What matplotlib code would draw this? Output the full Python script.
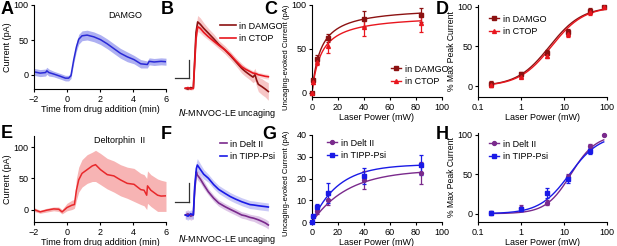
import numpy as np
import matplotlib
matplotlib.use("Agg")
import matplotlib.pyplot as plt

plt.rcParams['font.family'] = ['Liberation Sans', 'DejaVu Sans']
plt.rcParams['font.size'] = 6.5
plt.rcParams['axes.linewidth'] = 0.8
plt.rcParams['xtick.major.size'] = 2.5
plt.rcParams['ytick.major.size'] = 2.5
plt.rcParams['xtick.major.width'] = 0.8
plt.rcParams['ytick.major.width'] = 0.8
plt.rcParams['xtick.major.pad'] = 1.5
plt.rcParams['ytick.major.pad'] = 1.5

# --- colours ---
BLUE_A = '#2a2ad6'
BLUE_A_BAND = '#aeb0f2'
RED_E = '#e8282b'
RED_E_BAND = '#f7b4b4'
DAMGO_C = '#8c1212'
CTOP_C = '#e8161e'
DELT_C = '#7a2a8c'
TIPP_C = '#1a1ae6'

# --- A: DAMGO time course ---
a_t = [-2, -1.63, -1.3, -1.22, -1.1, -0.81, -0.41, -0.1, 0.1, 0.24, 0.41, 0.57, 0.71, 0.91,
       1.22, 1.63, 2.03, 2.44, 2.84, 3.24, 3.65, 4.06, 4.47, 4.87, 4.98, 5.28, 5.7, 6]
a_mean = [4.5, 2.7, 3.5, 6, 3.5, 1.4, -1.8, -4.5, -4.5, -1, 22, 40, 51, 56,
          57, 54.5, 50.5, 44.5, 37.7, 31, 26, 22, 16, 15, 19.5, 18.6, 19.5, 19]
a_sem = [5, 5, 5, 5, 5, 4, 4, 4, 4, 4, 5, 6, 7, 7,
         7, 7, 7, 7, 7, 7, 7, 6, 6, 5, 5, 5, 5, 5]

# --- E: Deltorphin II time course ---
e_t = [-2, -1.63, -1.22, -0.81, -0.5, -0.3, 0, 0.3, 0.45, 0.57, 0.71, 0.91, 1.22, 1.53, 1.73,
       2.03, 2.44, 2.84, 3.24, 3.65, 4.06, 4.47, 4.67, 4.83, 4.88, 5.08, 5.49, 5.7, 6]
e_mean = [0, -3.8, -1, 1, 0.5, -3.8, 3.2, 7, 8, 31, 47.6, 58, 64, 70, 72,
          64, 56, 54, 47.6, 42, 40.5, 32, 31, 23, 38, 31, 23, 21.6, 22]
e_lo = [-3, -6, -4, -2, -3, -7, -2, 0, 2, 15, 28, 36, 42, 45, 45,
        40, 33, 28, 22, 18, 13, 8, 6, 0, 10, 5, -3, -3, -3]
e_hi = [3, -1, 2, 4, 4, 0, 10, 15, 16, 50, 68, 80, 88, 92, 95,
        90, 82, 78, 72, 68, 66, 58, 56, 50, 62, 56, 49, 47, 45]

# --- B: uncaging traces, DAMGO vs CTOP (time in s, current in pA) ---
b_t = [0, 0.8, 1.6, 2.4, 2.8, 3.2, 3.7, 4.5, 5.5, 6.9, 8.5, 10, 11.9, 13.5, 15,
       16.9, 18, 19.4, 20.3, 20.9, 21.4, 21.9, 23, 24, 24.9]
b_damgo = [0, -1, 1, 0, 35, 70, 83, 80, 75, 69, 62, 55, 48, 41, 34,
           25, 21, 16.6, 14, 17, 10, 5, 2, -1, -4]
b_damgo_sem = [1.5, 1.5, 1.5, 1.5, 6, 8, 8, 8, 7, 6, 6, 5, 5, 5, 5,
               6, 6, 6, 7, 8, 8, 9, 10, 10, 11]
b_ctop = [0, 1, -1, 0, 30, 62, 77, 75, 70, 64.5, 59, 54, 48, 42, 35,
          27, 24, 21, 19, 18.7, 18, 17, 16, 15, 14.5]
b_ctop_sem = [1.5, 1.5, 1.5, 1.5, 5, 6, 6, 6, 5, 4, 4, 4, 4, 3, 3,
              3, 3, 3, 3, 3, 3, 3, 3, 3, 3]

# --- F: uncaging traces, Delt II vs TIPP-Psi ---
f_t = [0, 0.8, 1.6, 2.4, 2.8, 3.3, 3.6, 4.5, 5.5, 6.9, 8.5, 10, 11.9, 13.5, 15,
       16.9, 18, 19.4, 20.5, 21.9, 23, 24, 24.9]
f_delt = [0, 1.5, -1.5, 0, 30, 54, 50, 45, 38, 29, 21, 15, 10.4, 7, 4,
          0, -1, -3, -4, -6, -8, -10, -12.5]
f_delt_sem = [5, 5, 5, 5, 5, 6, 6, 5, 5, 4, 4, 4, 4, 4, 4,
              4, 4, 4, 4, 5, 5, 5, 5]
f_tipp = [0, -1.5, 1.5, 0, 35, 58, 62.5, 57, 51, 46, 38, 32, 27, 23, 20,
          16.6, 15, 13, 12.5, 11.6, 11, 10.5, 10]
f_tipp_sem = [5, 5, 5, 5, 6, 8, 8, 7, 6, 5, 5, 5, 5, 5, 5,
              5, 5, 5, 5, 5, 5, 5, 5]

# --- C / D: laser power curves (DAMGO vs CTOP) ---
power = [0, 1, 3.5, 12.5, 40, 84]
c_damgo = [0, 14, 38.6, 62, 84, 88.6]
c_damgo_err = [0, 2, 3.8, 4.7, 9.5, 7.6]
c_ctop = [0, 12, 34.8, 53.7, 74.5, 80]
c_ctop_err = [0, 2, 3.5, 8.6, 10, 10.5]
c_damgo_fit = (98, 6.7)      # Vmax, K
c_ctop_fit = (89, 7.2)

power_log = [0.2, 1, 4, 12.5, 40, 84]
d_damgo = [3, 15, 42, 68, 95, 100]
d_damgo_err = [4, 3, 3, 4, 3, 0]
d_ctop = [2, 12, 38, 65, 93, 100]
d_ctop_err = [3, 2, 3, 3, 3, 0]
d_damgo_fit = (4.6, 1.15)    # EC50, Hill slope
d_ctop_fit = (5.1, 1.15)

# --- G / H: laser power curves (Delt II vs TIPP-Psi) ---
g_delt = [0, 2.6, 5, 10, 19.4, 22.4]
g_delt_err = [0, 0.8, 1.2, 2.3, 4, 5]
g_tipp = [0, 2.6, 6.7, 13.3, 21.2, 26.3]
g_tipp_err = [0, 0.8, 1.5, 4.5, 3.5, 4.6]
g_delt_fit = (24, 0.036)     # plateau, rate
g_tipp_fit = (26.5, 0.05)

h_delt = [1, 7.6, 14, 46.6, 85, 100]
h_delt_err = [3, 4, 3, 4, 3, 0]
h_tipp = [1, 5.5, 26.7, 43.7, 79, None]
h_tipp_err = [2, 2, 6.4, 5, 4, 0]
h_delt_fit = (14.5, 1.5)
h_tipp_fit = (13.5, 1.25)

W, H = 617, 246
fig = plt.figure(figsize=(W / 100, H / 100), dpi=100)


def px_axes(x0, y0, x1, y1):
    # axes from pixel box (left, top, right, bottom)
    return fig.add_axes([x0 / W, 1 - y1 / H, (x1 - x0) / W, (y1 - y0) / H])


def prism(ax):
    ax.spines['top'].set_visible(False)
    ax.spines['right'].set_visible(False)
    ax.tick_params(direction='out', labelsize=6.5)


def put_legend(ax, handles, labels, x, y, hl=1.2):
    ax.legend(handles, labels, loc='upper left', bbox_to_anchor=(x / W, 1 - y / H),
              bbox_transform=fig.transFigure, frameon=False, borderpad=0,
              handlelength=hl, handletextpad=0.4, labelspacing=0.35, fontsize=6.5)


def time_course(ax, t, mean, lo, hi, col, band, ylim, title, tx, ty):
    ax.fill_between(t, lo, hi, color=band, lw=0)
    ax.plot(t, mean, color=col, lw=1.1)
    ax.set_xlim(-2, 6)
    ax.set_ylim(*ylim)
    ax.set_xticks([-2, 0, 2, 4, 6])
    ax.set_yticks([0, 50, 100])
    ax.set_xlabel("Time from drug addition (min)", labelpad=1)
    ax.set_ylabel("Current (pA)", labelpad=1)
    ax.text(tx, ty, title, transform=ax.transAxes, ha='center', va='center', fontsize=6.5)
    prism(ax)


def trace_panel(ax, t, s1, e1, c1, b1, s2, e2, c2, b2, ylim, bar_y):
    s1, e1, s2, e2 = map(np.array, (s1, e1, s2, e2))
    ax.fill_between(t, s1 - e1, s1 + e1, color=b1, lw=0, alpha=0.6)
    ax.fill_between(t, s2 - e2, s2 + e2, color=b2, lw=0, alpha=0.6)
    l1, = ax.plot(t, s1, color=c1, lw=1.2)
    l2, = ax.plot(t, s2, color=c2, lw=1.2)
    # scale bar
    ax.plot([-3.1, 1.1], [bar_y, bar_y], color='#333333', lw=0.9)
    ax.plot([1.1, 1.1], [bar_y, bar_y + 23], color='#333333', lw=0.9)
    ax.set_xlim(-4, 26)
    ax.set_ylim(*ylim)
    ax.axis('off')
    return l1, l2


def errpts(ax, x, y, err, col, marker):
    xs = [a for a, b in zip(x, y) if b is not None]
    ys = [b for b in y if b is not None]
    es = [e for e, b in zip(err, y) if b is not None]
    ax.errorbar(xs, ys, yerr=es, fmt=marker, color=col, ms=2.8, lw=0.9,
                capsize=1.5, capthick=0.9, clip_on=False, zorder=3)
    h, = ax.plot([], [], color=col, marker=marker, ms=2.8, lw=1)
    return h


# A
axA = px_axes(34, 5, 166, 89)
time_course(axA, a_t, a_mean, np.array(a_mean) - np.array(a_sem),
            np.array(a_mean) + np.array(a_sem), BLUE_A, BLUE_A_BAND,
            (-20, 100), "DAMGO", 0.69, 0.88)

# E
axE = px_axes(34, 136, 166, 222)
time_course(axE, e_t, e_mean, e_lo, e_hi, RED_E, RED_E_BAND,
            (-20, 118), "Deltorphin  II", 0.65, 0.95)

# B
axB = px_axes(172, 12, 272, 100)
hb = trace_panel(axB, b_t, b_damgo, b_damgo_sem, DAMGO_C, '#f2a0a0',
                 b_ctop, b_ctop_sem, CTOP_C, '#f7b8b8', (-14.6, 95.4), 12.5)
put_legend(axB, hb, ["in DAMGO", "in CTOP"], 215, 17, hl=1.8)
fig.text(227 / W, 1 - 114 / H, r"$\it{N}$-MNVOC-LE uncaging", ha='center', va='center', fontsize=6.5)

# F
axF = px_axes(172, 140, 272, 232)
hf = trace_panel(axF, f_t, f_delt, f_delt_sem, DELT_C, '#c9a0d8',
                 f_tipp, f_tipp_sem, TIPP_C, '#a8a8f2', (-21.25, 93.75), 16.6)
put_legend(axF, hf, ["in Delt II", "in TIPP-Psi"], 215, 135, hl=0.8)
fig.text(227 / W, 1 - 239 / H, r"$\it{N}$-MNVOC-LE uncaging", ha='center', va='center', fontsize=6.5)

# C
axC = px_axes(312, 5, 442, 97)
xf = np.linspace(0, 84, 200)
for fit, col in ((c_damgo_fit, DAMGO_C), (c_ctop_fit, CTOP_C)):
    axC.plot(xf, fit[0] * xf / (fit[1] + xf), color=col, lw=1)
h1 = errpts(axC, power, c_damgo, c_damgo_err, DAMGO_C, 's')
h2 = errpts(axC, power, c_ctop, c_ctop_err, CTOP_C, '^')
axC.set_xlim(0, 100)
axC.set_ylim(-5, 100)
axC.set_xticks([0, 20, 40, 60, 80, 100])
axC.set_yticks([0, 50, 100])
axC.set_xlabel("Laser Power (mW)", labelpad=1)
axC.set_ylabel("Uncaging-evoked Current (pA)", fontsize=5.6)
axC.yaxis.set_label_coords(-0.17, 0.43)
prism(axC)
put_legend(axC, [h1, h2], ["in DAMGO", "in CTOP"], 386, 60)

# D
axD = px_axes(478, 5, 607, 97)
xl = np.logspace(np.log10(0.2), np.log10(84), 200)
for fit, col in ((d_damgo_fit, DAMGO_C), (d_ctop_fit, CTOP_C)):
    r = (xl / fit[0]) ** fit[1]
    axD.plot(xl, 100 * r / (1 + r), color=col, lw=1)
h1 = errpts(axD, power_log, d_damgo, d_damgo_err, DAMGO_C, 's')
h2 = errpts(axD, power_log, d_ctop, d_ctop_err, CTOP_C, '^')
axD.set_xscale('log')
axD.set_xlim(0.1, 100)
axD.set_ylim(-13.5, 102)
axD.set_xticks([0.1, 1, 10, 100])
axD.set_xticklabels(["0.1", "1", "10", "100"])
axD.minorticks_off()
axD.set_yticks([0, 50, 100])
axD.set_xlabel("Laser Power (mW)", labelpad=1)
axD.set_ylabel("% Max Peak Current", labelpad=1, fontsize=6.2)
prism(axD)
put_legend(axD, [h1, h2], ["in DAMGO", "in CTOP"], 484, 10)

# G
axG = px_axes(312, 135, 442, 222)
for fit, col in ((g_delt_fit, DELT_C), (g_tipp_fit, TIPP_C)):
    axG.plot(xf, fit[0] * (1 - np.exp(-fit[1] * xf)), color=col, lw=1)
h1 = errpts(axG, power, g_delt, g_delt_err, DELT_C, 'o')
h2 = errpts(axG, power, g_tipp, g_tipp_err, TIPP_C, 's')
axG.set_xlim(0, 100)
axG.set_ylim(0, 40)
axG.set_xticks([0, 20, 40, 60, 80, 100])
axG.set_yticks([0, 10, 20, 30, 40])
axG.set_xlabel("Laser Power (mW)", labelpad=1)
axG.set_ylabel("Uncaging-evoked Current (pA)", fontsize=5.6)
axG.yaxis.set_label_coords(-0.17, 0.45)
prism(axG)
put_legend(axG, [h1, h2], ["in Delt II", "in TIPP-Psi"], 322, 134)

# H
axH = px_axes(478, 133, 607, 222)
for fit, col in ((h_delt_fit, DELT_C), (h_tipp_fit, TIPP_C)):
    r = (xl / fit[0]) ** fit[1]
    axH.plot(xl, 100 * r / (1 + r), color=col, lw=1)
h1 = errpts(axH, power_log, h_delt, h_delt_err, DELT_C, 'o')
h2 = errpts(axH, power_log, h_tipp, h_tipp_err, TIPP_C, 's')
axH.set_xscale('log')
axH.set_xlim(0.1, 100)
axH.set_ylim(-10.5, 102)
axH.set_xticks([0.1, 1, 10, 100])
axH.set_xticklabels(["0.1", "1", "10", "100"])
axH.minorticks_off()
axH.set_yticks([0, 50, 100])
axH.set_xlabel("Laser Power (mW)", labelpad=1)
axH.set_ylabel("% Max Peak Current", labelpad=1, fontsize=6.2)
prism(axH)
put_legend(axH, [h1, h2], ["in Delt II", "in TIPP-Psi"], 484, 135)

# panel letters
for letter, x, y in (("A", 1, 1), ("B", 161, 1), ("C", 264, 1), ("D", 436, 1),
                     ("E", 1, 125), ("F", 161, 126), ("G", 262, 126), ("H", 436, 126)):
    fig.text(x / W, 1 - y / H, letter, fontsize=13, fontweight='bold', ha='left', va='top')

fig.savefig("out.png", dpi=100)
